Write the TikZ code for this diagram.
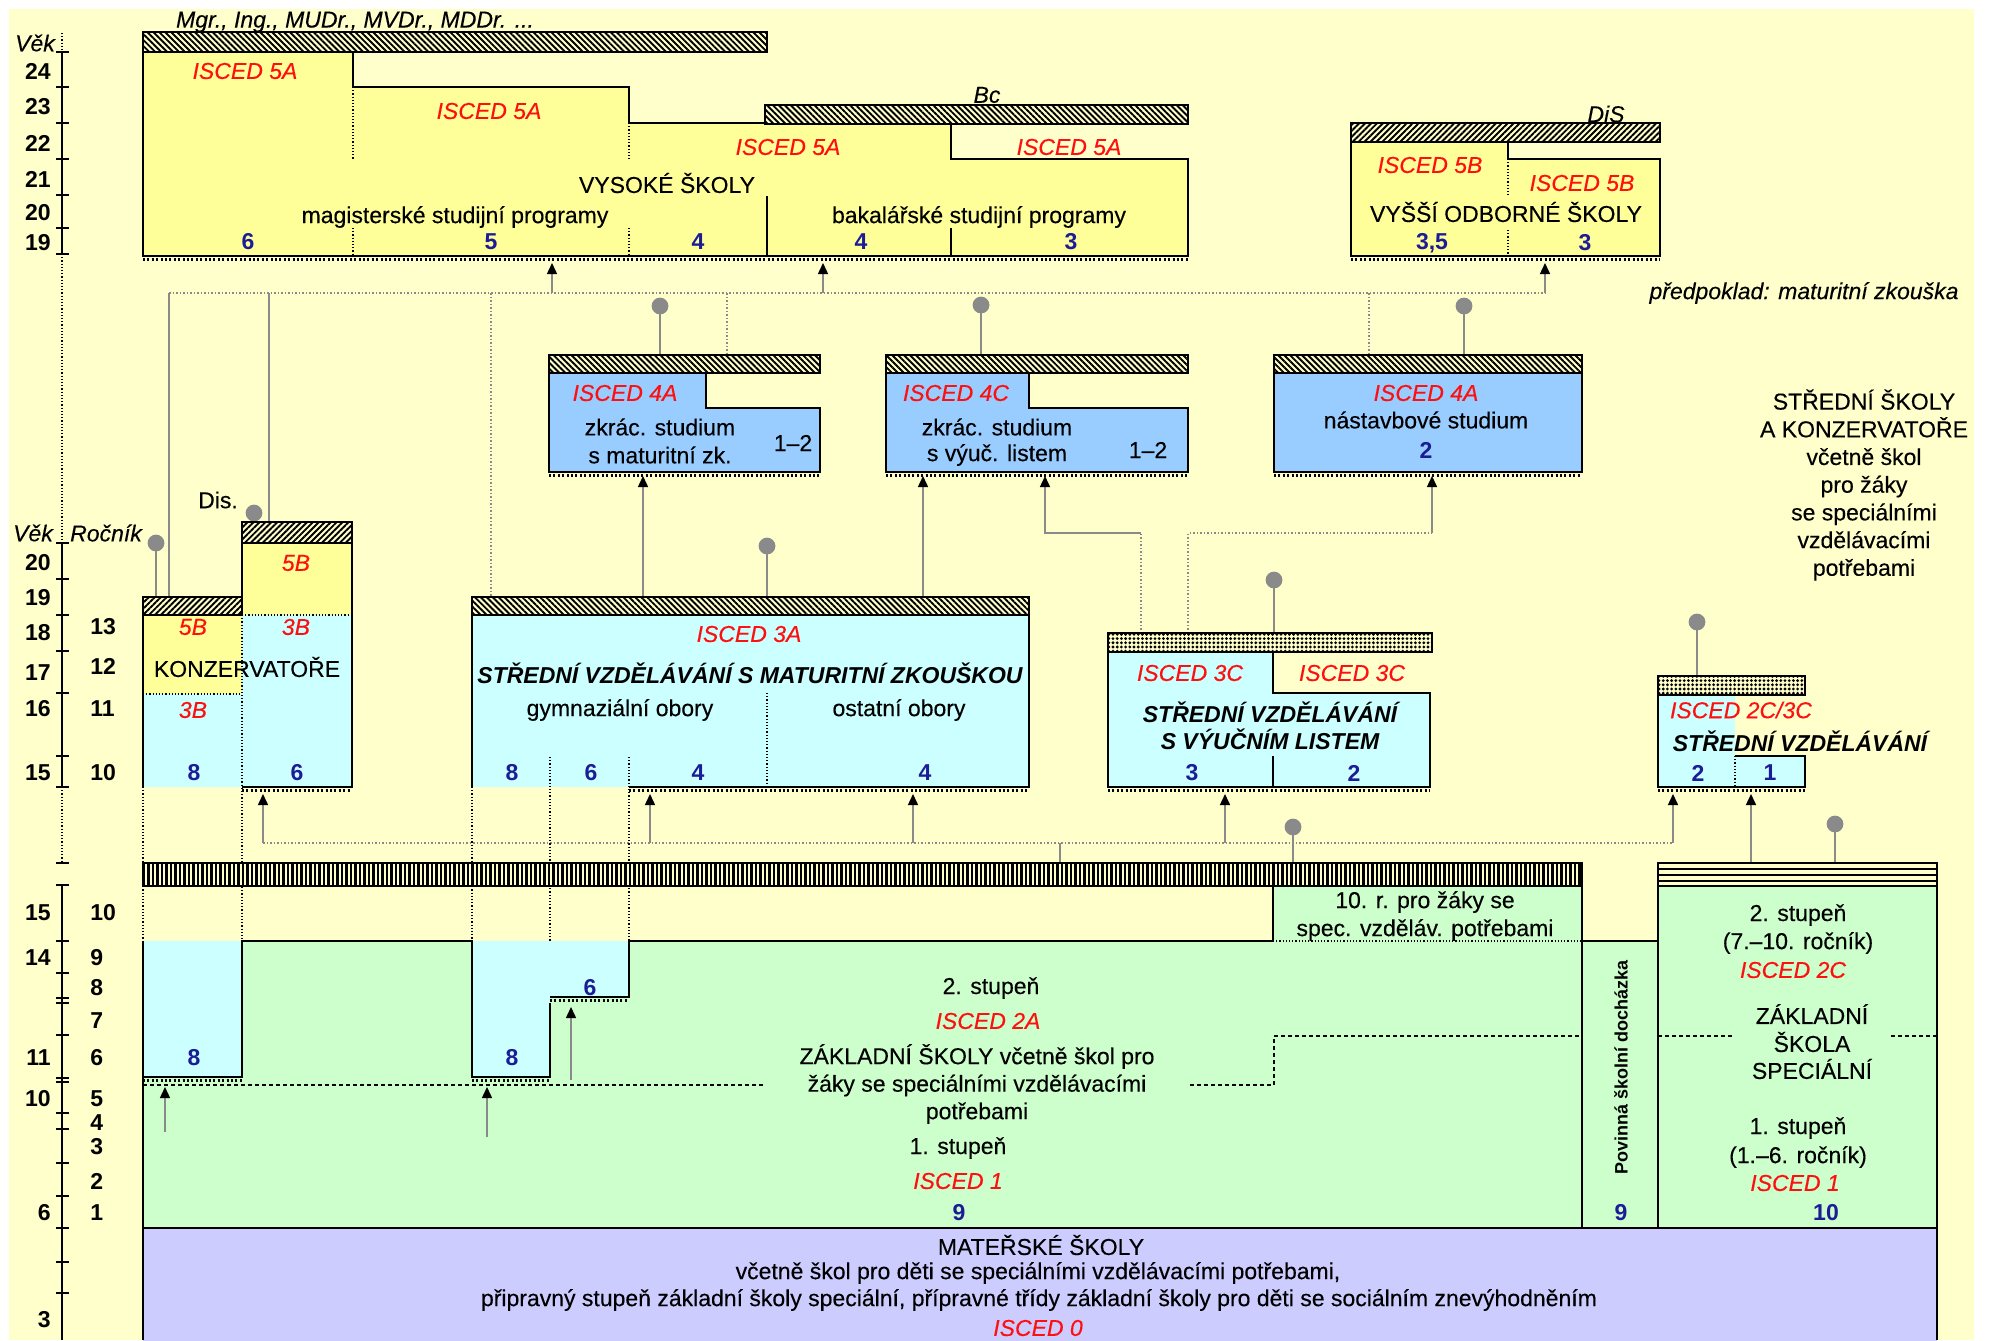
\documentclass[tikz,border=0pt]{standalone}
\usepackage{fontspec}
\setmainfont{Liberation Sans}[UprightFeatures={FakeBold=0.25},ItalicFeatures={FakeBold=0.25}]
\usetikzlibrary{patterns.meta,arrows.meta}
\definecolor{bgy}{HTML}{FFFFCC}
\definecolor{yel}{HTML}{FFFF99}
\definecolor{lcy}{HTML}{CCFFFF}
\definecolor{mbl}{HTML}{99CCFF}
\definecolor{grn}{HTML}{CCFFCC}
\definecolor{pur}{HTML}{CCCCFF}
\definecolor{nb}{HTML}{1C1C96}
\definecolor{rd}{HTML}{FF1010}
\definecolor{gl}{HTML}{8A8A8A}
\newcommand\myfs{\fontsize{11.5}{13.8}\selectfont}
\begin{document}
\begin{tikzpicture}[x=0.5pt,y=-0.5pt,
  ol/.style={line width=1.4pt},
  tx/.style={inner sep=0pt,font=\myfs,align=center},
  itx/.style={inner sep=0pt,font=\myfs\itshape,align=center},
  isc/.style={inner sep=0pt,font=\myfs\itshape,text=rd,align=center},
  nu/.style={inner sep=0pt,font=\myfs\bfseries,text=nb},
  bi/.style={inner sep=0pt,font=\myfs\bfseries\itshape,align=center},
  ax/.style={inner sep=0pt,font=\myfs\bfseries,anchor=east},
  rk/.style={inner sep=0pt,font=\myfs\bfseries,anchor=west},
  comb/.style={line width=1.4pt,dash pattern=on 1pt off 1.2pt},
  hL/.style={preaction={fill=bgy},pattern={Lines[angle=-45,distance=2.1pt,line width=0.95pt]}},
  hR/.style={preaction={fill=bgy},pattern={Lines[angle=45,distance=2.1pt,line width=0.95pt]}},
  hD/.style={preaction={fill=bgy},pattern={Dots[distance=2.1pt,radius=0.78pt]}},
  hV/.style={preaction={fill=bgy},pattern={Lines[angle=90,distance=2.25pt,line width=1.1pt]}},
  gline/.style={draw=gl,line width=0.75pt},
  gdot/.style={draw=gl,line width=0.75pt,densely dotted},
  garr/.style={draw=gl,line width=0.75pt,-{Triangle[width=5pt,length=5.5pt,color=black]}},
  kdot/.style={draw=black,line width=0.6pt,densely dotted},
  kdash/.style={draw=black,line width=0.6pt,dash pattern=on 2pt off 1.5pt},
  ball/.style={fill=gl},
  tk/.style={line width=1.2pt}
]
\useasboundingbox (0,0) rectangle (1992,1340);
\fill[white] (0,0) rectangle (1992,1340);
\fill[bgy] (9,9) rectangle (1974,1340);

% ---------------- axis ----------------
\draw[kdot] (62,33) -- (62,52);
\draw[tk] (62,52) -- (62,254);
\foreach \y in {52,87,123,159,195,228,254} \draw[tk] (56,\y) -- (69,\y);
\draw[kdot] (62,254) -- (62,543);
\draw[tk] (62,543) -- (62,787);
\foreach \y in {543,579,615,651,693,756,787} \draw[tk] (56,\y) -- (69,\y);
\draw[kdot] (62,787) -- (62,863);
\draw[tk] (56,863) -- (69,863);
\draw[tk] (62,885) -- (62,1340);
\foreach \y in {885,941,973,998,1003,1035,1078,1082,1113,1129,1163,1196,1228,1262,1293} \draw[tk] (56,\y) -- (69,\y);
\foreach \t/\y [count=\i] in {24/71,23/107,22/143,21/179,20/213,19/243,20/563,19/598,18/633,17/673,16/709,15/773,15/913,14/958,11/1058,10/1099,6/1213,3/1320}
  \node[ax] (age\i) at (51,\y) {\t};
\foreach \t/\y [count=\i] in {13/627,12/666,11/709,10/773,10/913,9/958,8/988,7/1021,6/1058,5/1099,4/1123,3/1147,2/1181,1/1213}
  \node[rk] (roc\i) at (90,\y) {\t};
\node[itx] (vek1) at (35,43) {Věk};
\node[itx] (vek2) at (33,533) {Věk};
\node[itx] (rocnik) at (106,533) {Ročník};

% ---------------- connectors ----------------
\draw[gdot] (169,293) -- (1545,293);
\draw[gline] (169,293) -- (169,597);
\draw[gline] (269,293) -- (269,522);
\draw[gdot] (491,293) -- (491,597);
\draw[gdot] (727,293) -- (727,355);
\draw[gdot] (1369,293) -- (1369,355);
\draw[garr] (552,293) -- (552,263);
\draw[garr] (823,293) -- (823,263);
\draw[garr] (1545,293) -- (1545,263);
\draw[garr] (643,597) -- (643,476);
\draw[garr] (923,597) -- (923,476);
\draw[gdot] (1141,633) -- (1141,533);
\draw[garr] (1141,533) -- (1045,533) -- (1045,476);
\draw[gdot] (1188,633) -- (1188,533) -- (1432,533);
\draw[garr] (1432,533) -- (1432,476);
\draw[gdot] (263,843) -- (1673,843);
\draw[gline] (1060,843) -- (1060,863);
\foreach \x in {263,650,913,1225,1673} \draw[garr] (\x,843) -- (\x,794);
\draw[garr] (1751,863) -- (1751,794);
\foreach \x/\y/\e in {156/543/597,254/513/522,660/306/355,981/305/355,1464/306/355,767/546/597,1274/580/633,1697/622/676,1293/827/863,1835/824/863}
{ \draw[gline] (\x,\y) -- (\x,\e); \fill[ball] (\x,\y) circle[radius=4.2pt]; }

% ---------------- universities ----------------
\fill[yel] (143,52) -- (353,52) -- (353,87) -- (629,87) -- (629,123) -- (951,123) -- (951,159) -- (1188,159) -- (1188,256) -- (143,256) -- cycle;
\draw[kdot] (353,87) -- (353,160) (353,228) -- (353,256) (629,123) -- (629,160) (629,228) -- (629,256);
\draw[line width=0.8pt] (767,196) -- (767,256) (951,228) -- (951,256);
\draw[ol] (143,256) -- (143,52) -- (353,52) -- (353,87) -- (629,87) -- (629,123) -- (951,123) -- (951,159) -- (1188,159) -- (1188,256) -- cycle;
\draw[comb] (143,259.5) -- (1188,259.5);
\draw[ol,hL] (143,32) rectangle (767,52);
\draw[ol,hL] (765,105) rectangle (1188,124);
\node[itx] (mgr) at (355,22) {Mgr., Ing., MUDr., MVDr., MDDr. ...};
\node[itx] (bc) at (987,95) {Bc};
\node[isc] (u1) at (245,71) {ISCED 5A};
\node[isc] (u2) at (489,111) {ISCED 5A};
\node[isc] (u3) at (788,147) {ISCED 5A};
\node[isc] (u4) at (1069,147) {ISCED 5A};
\node[tx] (vs) at (667,183) {VYSOKÉ ŠKOLY};
\node[tx] (mag) at (455,217) {magisterské studijní programy};
\node[tx] (bak) at (979,217) {bakalářské studijní programy};
\node[nu] (un1) at (248,242) {6};
\node[nu] (un2) at (491,242) {5};
\node[nu] (un3) at (698,242) {4};
\node[nu] (un4) at (861,242) {4};
\node[nu] (un5) at (1071,242) {3};

% VOŠ
\fill[yel] (1351,142) -- (1508,142) -- (1508,159) -- (1660,159) -- (1660,256) -- (1351,256) -- cycle;
\draw[kdot] (1508,159) -- (1508,195) (1508,230) -- (1508,256);
\draw[ol] (1351,256) -- (1351,142) -- (1508,142) -- (1508,159) -- (1660,159) -- (1660,256) -- cycle;
\draw[comb] (1351,259.5) -- (1660,259.5);
\draw[ol,hR] (1351,123) rectangle (1660,142);
\node[itx] (dis) at (1606,114) {DiS};
\node[isc] (v1) at (1430,165) {ISCED 5B};
\node[isc] (v2) at (1582,183) {ISCED 5B};
\node[tx] (vos) at (1506,212) {VYŠŠÍ ODBORNÉ ŠKOLY};
\node[nu] (vn1) at (1432,243) {3,5};
\node[nu] (vn2) at (1585,243) {3};
\node[itx] (pred) at (1804,293) {předpoklad: maturitní zkouška};

% ---------------- ISCED 4 ----------------
\draw[ol,fill=mbl] (549,373) -- (706,373) -- (706,408) -- (820,408) -- (820,472) -- (549,472) -- cycle;
\draw[comb] (549,475.5) -- (820,475.5);
\draw[ol,hL] (549,355) rectangle (820,373);
\node[isc] (a1) at (625,393) {ISCED 4A};
\node[tx] (a2) at (660,427) {zkrác. studium};
\node[tx] (a3) at (660,455) {s maturitní zk.};
\node[tx] (a4) at (793,443) {1–2};

\draw[ol,fill=mbl] (886,373) -- (1029,373) -- (1029,408) -- (1188,408) -- (1188,472) -- (886,472) -- cycle;
\draw[comb] (886,475.5) -- (1188,475.5);
\draw[ol,hL] (886,355) rectangle (1188,373);
\node[isc] (c1) at (956,393) {ISCED 4C};
\node[tx] (c2) at (997,427) {zkrác. studium};
\node[tx] (c3) at (997,455) {s výuč. listem};
\node[tx] (c4) at (1148,450) {1–2};

\draw[ol,fill=mbl] (1274,373) rectangle (1582,472);
\draw[comb] (1274,475.5) -- (1582,475.5);
\draw[ol,hL] (1274,355) rectangle (1582,373);
\node[isc] (n1) at (1426,393) {ISCED 4A};
\node[tx] (n2) at (1426,420) {nástavbové studium};
\node[nu] (n3) at (1426,450) {2};

\node[tx,font=\fontsize{11.5}{13.85}\selectfont] (ss) at (1864,485) {STŘEDNÍ ŠKOLY\\A KONZERVATOŘE\\včetně škol\\pro žáky\\se speciálními\\vzdělávacími\\potřebami};

% ---------------- Konzervatoř ----------------
\fill[yel] (143,615) rectangle (242,694);
\fill[lcy] (143,694) rectangle (242,787);
\fill[yel] (242,543) rectangle (352,615);
\fill[lcy] (242,615) rectangle (352,787);
\draw[kdot] (143,694) -- (242,694) (242,615) -- (352,615) (242,615) -- (242,941) (143,787) -- (143,941);
\draw[ol] (143,787) -- (143,615);
\draw[ol] (242,597) -- (242,543);
\draw[ol] (242,787) -- (352,787) -- (352,543);
\draw[comb] (242,790.5) -- (352,790.5);
\draw[ol,hR] (143,597) rectangle (242,615);
\draw[ol,hR] (242,522) rectangle (352,543);
\node[tx] (dis2) at (218,500) {Dis.};
\node[isc] (k0) at (296,563) {5B};
\node[isc] (k1) at (193,627) {5B};
\node[isc] (k2) at (296,627) {3B};
\node[tx] (k3) at (247,667) {KONZERVATOŘE};
\node[isc] (k4) at (193,710) {3B};
\node[nu] (k5) at (194,773) {8};
\node[nu] (k6) at (297,773) {6};

% ---------------- 3A ----------------
\fill[lcy] (472,615) rectangle (1029,787);
\draw[kdot] (550,757) -- (550,941) (629,757) -- (629,941) (472,787) -- (472,941) (767,693) -- (767,787);
\draw[ol] (472,787) -- (472,615) (629,787) -- (1029,787) -- (1029,615);
\draw[comb] (629,790.5) -- (1029,790.5);
\draw[ol,hL] (472,597) rectangle (1029,615);
\node[isc] (s1) at (749,634) {ISCED 3A};
\node[bi] (s2) at (750,673) {STŘEDNÍ VZDĚLÁVÁNÍ S MATURITNÍ ZKOUŠKOU};
\node[tx] (s3) at (620,710) {gymnaziální obory};
\node[tx] (s4) at (899,710) {ostatní obory};
\node[nu] (s5) at (512,773) {8};
\node[nu] (s6) at (591,773) {6};
\node[nu] (s7) at (698,773) {4};
\node[nu] (s8) at (925,773) {4};

% ---------------- 3C ----------------
\draw[ol,fill=lcy] (1108,652) -- (1273,652) -- (1273,693) -- (1430,693) -- (1430,787) -- (1108,787) -- cycle;
\draw[comb] (1108,790.5) -- (1430,790.5);
\draw[line width=0.8pt] (1273,756) -- (1273,787);
\draw[ol,hD] (1108,633) rectangle (1432,652);
\node[isc] (t1) at (1190,673) {ISCED 3C};
\node[isc] (t2) at (1352,673) {ISCED 3C};
\node[bi] (t3) at (1270,712) {STŘEDNÍ VZDĚLÁVÁNÍ};
\node[bi] (t4) at (1270,739) {S VÝUČNÍM LISTEM};
\node[nu] (t5) at (1192,773) {3};
\node[nu] (t6) at (1354,773) {2};

% ---------------- 2C/3C ----------------
\fill[lcy] (1658,695) -- (1735,695) -- (1735,756) -- (1805,756) -- (1805,787) -- (1658,787) -- cycle;
\draw[ol] (1658,695) -- (1658,787) -- (1805,787) -- (1805,756) -- (1735,756);
\draw[kdot] (1735,756) -- (1735,787);
\draw[comb] (1658,790.5) -- (1805,790.5);
\draw[ol,hD] (1658,676) rectangle (1805,695);
\node[isc] (w1) at (1741,710) {ISCED 2C/3C};
\node[bi] (w2) at (1800,741) {STŘEDNÍ VZDĚLÁVÁNÍ};
\node[nu] (w3) at (1698,773) {2};
\node[nu] (w4) at (1770,773) {1};

% ---------------- basic schools ----------------
\fill[grn] (143,941) rectangle (1582,1228);
\fill[grn] (1273,886) rectangle (1582,941);
\fill[grn] (1582,941) rectangle (1658,1228);
\fill[grn] (1658,886) rectangle (1937,1228);
\fill[lcy] (143,941) rectangle (242,1077);
\fill[lcy] (472,941) rectangle (629,997);
\fill[lcy] (472,997) rectangle (550,1077);
\fill[pur] (143,1228) rectangle (1937,1345);
\draw[kdash] (143,1085) -- (764,1085) (1190,1085) -- (1274,1085) -- (1274,1036) -- (1582,1036) (1658,1036) -- (1735,1036) (1891,1036) -- (1937,1036);
\draw[garr] (165,1132) -- (165,1087);
\draw[garr] (487,1137) -- (487,1087);
\draw[garr] (571,1080) -- (571,1007);
\draw[ol] (143,941) -- (143,1340);
\draw[ol] (143,1077) -- (242,1077) -- (242,941) -- (472,941) -- (472,1077) -- (550,1077) -- (550,1003);
\draw[ol] (550,997) -- (629,997) -- (629,941) -- (1273,941) -- (1273,886);
\draw[comb] (143,1080.5) -- (242,1080.5) (472,1080.5) -- (550,1080.5) (550,1000.5) -- (629,1000.5);
\draw[kdot] (1273,941) -- (1582,941);
\draw[ol] (1582,886) -- (1582,1228) (1582,941) -- (1658,941) (1658,886) -- (1658,1228) (1937,886) -- (1937,1340);
\draw[ol] (143,1228) -- (1937,1228);
% bars
\draw[ol,hV] (143,863) rectangle (1582,886);
\fill[bgy] (1658,863) rectangle (1937,886);
\draw[line width=1pt] (1658,869) -- (1937,869) (1658,875) -- (1937,875) (1658,881) -- (1937,881);
\draw[ol] (1658,863) rectangle (1937,886);

\node[nu] (z1) at (194,1058) {8};
\node[nu] (z2) at (512,1058) {8};
\node[nu] (z3) at (590,988) {6};
\node[tx] (z4) at (991,988) {2. stupeň};
\node[isc] (z5) at (988,1021) {ISCED 2A};
\node[tx,font=\fontsize{11.5}{13.75}\selectfont] (z6) at (977,1084) {ZÁKLADNÍ ŠKOLY včetně škol pro\\žáky se speciálními vzdělávacími\\potřebami};
\node[tx] (z7) at (958,1148) {1. stupeň};
\node[isc] (z8) at (958,1181) {ISCED 1};
\node[nu] (z9) at (959,1213) {9};
\node[tx,font=\fontsize{11.5}{14}\selectfont] (z10) at (1425,916) {10. r. pro žáky se\\spec. vzděláv. potřebami};
\node[inner sep=0pt,font=\fontsize{9}{10}\selectfont\bfseries,rotate=90] (pov) at (1621,1067) {Povinná školní docházka};
\node[nu] (pov9) at (1621,1213) {9};
\node[tx] (p1) at (1798,915) {2. stupeň};
\node[tx] (p2) at (1798,943) {(7.–10. ročník)};
\node[isc] (p3) at (1793,970) {ISCED 2C};
\node[tx] (p4) at (1812,1014) {ZÁKLADNÍ};
\node[tx] (p5) at (1812,1042) {ŠKOLA};
\node[tx] (p6) at (1812,1069) {SPECIÁLNÍ};
\node[tx] (p7) at (1798,1128) {1. stupeň};
\node[tx] (p8) at (1798,1157) {(1.–6. ročník)};
\node[isc] (p9) at (1795,1183) {ISCED 1};
\node[nu] (p10) at (1826,1213) {10};

\node[tx] (m1) at (1041,1245) {MATEŘSKÉ ŠKOLY};
\node[tx] (m2) at (1038,1273) {včetně škol pro děti se speciálními vzdělávacími potřebami,};
\node[tx] (m3) at (1039,1300) {připravný stupeň základní školy speciální, přípravné třídy základní školy pro děti se sociálním znevýhodněním};
\node[isc] (m4) at (1038,1328) {ISCED 0};
\end{tikzpicture}
\end{document}
